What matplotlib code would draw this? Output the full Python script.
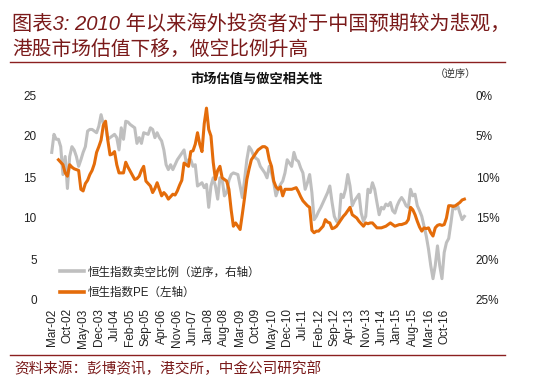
import numpy as np
import pandas as pd
import matplotlib
matplotlib.use("Agg")
import matplotlib.pyplot as plt
from matplotlib.lines import Line2D

plt.rcParams['font.family'] = ['Liberation Sans', 'Noto Sans CJK SC', 'DejaVu Sans']

# ---- data (monthly, Mar-2002 .. Jul-2017) ----
months = pd.date_range('2002-03-01', periods=185, freq='MS')

# Hang Seng short-selling ratio (%), plotted on inverted right axis
short_ratio = [
    7.0, 4.8, 5.4, 5.4, 6.3, 9.7, 7.5, 11.4, 7.5, 6.3,
    6.7, 7.5, 8.7, 7.9, 7.0, 6.3, 4.4, 4.2, 4.2, 4.4,
    4.6, 3.8, 2.4, 3.5, 3.8, 5.4, 5.2, 5.0, 4.8, 5.2,
    6.7, 4.0, 5.4, 3.2, 3.3, 3.6, 3.8, 4.0, 5.9, 5.2,
    5.9, 4.6, 4.7, 4.8, 4.0, 4.2, 5.2, 4.6, 5.2, 5.6,
    6.7, 8.5, 9.1, 8.5, 9.1, 8.5, 7.9, 7.5, 7.1, 6.7,
    8.3, 7.9, 7.9, 8.7, 8.5, 11.1, 10.9, 10.7, 11.3, 10.9,
    13.7, 11.1, 10.1, 11.1, 12.7, 10.1, 10.3, 12.3, 11.9, 10.4,
    9.7, 9.5, 9.6, 9.7, 11.1, 12.5, 10.3, 7.9, 6.3, 6.7,
    7.4, 7.7, 7.9, 8.7, 9.1, 9.5, 10.1, 8.7, 9.5, 10.7,
    12.3, 11.5, 10.9, 10.5, 9.5, 7.9, 8.3, 8.7, 7.0, 7.9,
    8.1, 8.9, 9.5, 11.5, 10.7, 9.7, 11.9, 15.2, 14.8, 14.2,
    13.7, 13.1, 12.5, 11.9, 11.1, 13.1, 14.8, 15.4, 15.6, 12.1,
    12.5, 11.5, 9.7, 11.1, 13.5, 12.9, 12.5, 12.1, 14.4, 15.4,
    14.8, 11.5, 11.9, 10.7, 11.5, 13.1, 14.6, 13.7, 13.9, 13.3,
    13.5, 13.1, 14.1, 14.4, 13.5, 12.9, 12.5, 12.9, 13.5, 13.7,
    11.5, 12.3, 12.1, 13.5, 14.1, 14.8, 16.0, 17.2, 18.8, 20.8,
    22.4, 20.8, 18.4, 20.8, 22.4, 19.2, 18.0, 17.5, 15.6, 13.5,
    13.9, 13.5, 14.4, 15.2, 14.8,
]

# Hang Seng Index PE (left axis)
hsi_pe = [
    np.nan, np.nan, np.nan, 17.1, 16.8, 16.5, 15.5, 15.1, 16.5, 16.2,
    16.0, 15.9, 15.8, 13.5, 13.3, 14.2, 14.6, 15.3, 15.8, 16.6,
    18.0, 18.7, 19.5, 21.3, 21.8, 19.5, 17.7, 17.8, 18.1, 16.5,
    15.5, 15.5, 15.5, 16.8, 16.2, 15.7, 15.2, 14.7, 14.8, 15.1,
    15.8, 16.3, 14.5, 14.2, 13.9, 13.1, 13.6, 14.3, 13.5, 12.7,
    13.1, 12.8, 12.3, 12.6, 12.9, 12.8, 13.3, 14.0, 14.6, 16.7,
    16.5, 16.3, 18.1, 18.2, 19.0, 20.4, 19.0, 18.1, 21.5, 23.4,
    20.8, 20.0, 16.8, 14.7, 15.8, 16.3, 14.9, 14.7, 14.5, 13.5,
    11.0, 9.0, 9.4, 9.0, 8.6, 10.5, 12.5, 14.7, 16.0, 17.1,
    17.5, 17.9, 18.3, 18.5, 18.7, 18.7, 18.5, 17.1, 16.3, 14.5,
    13.8, 13.5, 13.8, 12.7, 13.5, 13.5, 13.5, 13.5, 13.6, 13.7,
    13.2, 12.6, 12.1, 11.8, 11.5, 11.3, 8.5, 8.2, 8.4, 8.4,
    8.7, 9.0, 9.8, 9.5, 9.4, 8.7, 8.8, 9.0, 9.4, 9.8,
    10.2, 10.5, 10.9, 11.3, 10.4, 10.2, 10.0, 9.6, 9.3, 9.0,
    9.4, 9.3, 9.4, 9.4, 9.1, 8.8, 8.8, 8.8, 8.9, 9.0,
    9.2, 9.4, 9.2, 9.0, 9.1, 9.2, 9.2, 9.3, 9.4, 9.8,
    11.3, 11.0, 10.4, 9.6, 8.9, 8.4, 8.8, 8.7, 8.8, 8.2,
    7.8, 8.8, 9.1, 9.2, 9.1, 9.2, 10.0, 11.5, 11.5, 11.4,
    11.5, 11.7, 11.9, 12.2, 12.3,
]

left_ticks = [0, 5, 10, 15, 20, 25]
right_ticks = [0, 5, 10, 15, 20, 25]
x_tick_labels = ["Mar-02", "Oct-02", "May-03", "Dec-03", "Jul-04", "Feb-05", "Sep-05",
                 "Apr-06", "Nov-06", "Jun-07", "Jan-08", "Aug-08", "Mar-09", "Oct-09",
                 "May-10", "Dec-10", "Jul-11", "Feb-12", "Sep-12", "Apr-13", "Nov-13",
                 "Jun-14", "Jan-15", "Aug-15", "Mar-16", "Oct-16"]

title_lines = ["图表3: 2010 年以来海外投资者对于中国预期较为悲观，",
               "港股市场估值下移，做空比例升高"]
chart_title = "市场估值与做空相关性"
order_note = "（逆序）"
legend_labels = ["恒生指数卖空比例（逆序，右轴）", "恒生指数PE（左轴）"]
source_text = "资料来源：彭博资讯，港交所，中金公司研究部"

# ---- figure ----
W, H = 533, 381
fig = plt.figure(figsize=(W / 100, H / 100), dpi=100)
fig.patch.set_facecolor('white')

def fx(px):
    return px / W

def fy(py):
    return 1 - py / H

ax_left, ax_right, ax_top, ax_bot = 45, 470, 95, 300
ax = fig.add_axes([fx(ax_left), fy(ax_bot), fx(ax_right - ax_left), (ax_bot - ax_top) / H])
ax2 = ax.twinx()

x = np.arange(len(months))
grey = '#BFBFBF'
orange = '#E46C0A'

ax2.plot(x, short_ratio, color=grey, lw=2.2, solid_joinstyle='round')
ax.plot(x, hsi_pe, color=orange, lw=2.2, solid_joinstyle='round')

ax.set_zorder(ax2.get_zorder() + 1)
ax.patch.set_visible(False)

ax.set_xlim(-3.0, 186.5)
ax.set_ylim(0, 25)
ax2.set_ylim(25, 0)

ax.set_yticks(left_ticks)
ax.set_yticklabels([str(v) for v in left_ticks])
ax2.set_yticks(right_ticks)
ax2.set_yticklabels([f"{v}%" for v in right_ticks])

# category labels every 7 months, starting at the first category
xt = [months.get_loc(pd.to_datetime(lbl, format='%b-%y')) for lbl in x_tick_labels]
ax.set_xticks(xt)
ax.set_xticklabels(x_tick_labels, rotation=90)

for a in (ax, ax2):
    for s in a.spines.values():
        s.set_visible(False)
ax.tick_params(axis='x', length=0, pad=6, labelsize=8.5, colors='#222222')
ax.tick_params(axis='y', length=0, pad=6, labelsize=8.5, colors='#222222')
ax2.tick_params(axis='y', length=0, pad=4, labelsize=8.5, colors='#222222')
ax2.tick_params(axis='x', length=0)

handles = [Line2D([], [], color=grey, lw=2.6), Line2D([], [], color=orange, lw=2.6)]
leg = ax.legend(handles, legend_labels, loc='lower left', bbox_to_anchor=(0.035, 0.005),
                frameon=False, fontsize=8.3, handlelength=2.1, handletextpad=0.35,
                labelspacing=0.75, borderpad=0, borderaxespad=0)
for t in leg.get_texts():
    t.set_color('#222222')

# ---- titles and annotations ----
title_color = '#7A1A1A'
fig.text(fx(12), fy(24), title_lines[0], fontsize=14.6, color=title_color,
         ha='left', va='center', style='italic')
fig.text(fx(12), fy(49), title_lines[1], fontsize=14.2, color=title_color,
         ha='left', va='center', style='italic')
fig.add_artist(Line2D([fx(10), fx(505)], [fy(62), fy(62)], color='#8B2020', lw=1.0))

fig.text(fx(257), fy(79), chart_title, fontsize=9.5, color='#111111', ha='center',
         va='center', fontweight='bold')
fig.text(fx(456), fy(75), order_note, fontsize=7.5, color='#333333', ha='center', va='center')

fig.add_artist(Line2D([fx(10), fx(505)], [fy(355), fy(355)], color='#8B2020', lw=1.0))
fig.text(fx(14), fy(369), source_text, fontsize=10.5, color=title_color, ha='left',
         va='center', style='italic')

fig.savefig('out.png', dpi=100, facecolor='white')
